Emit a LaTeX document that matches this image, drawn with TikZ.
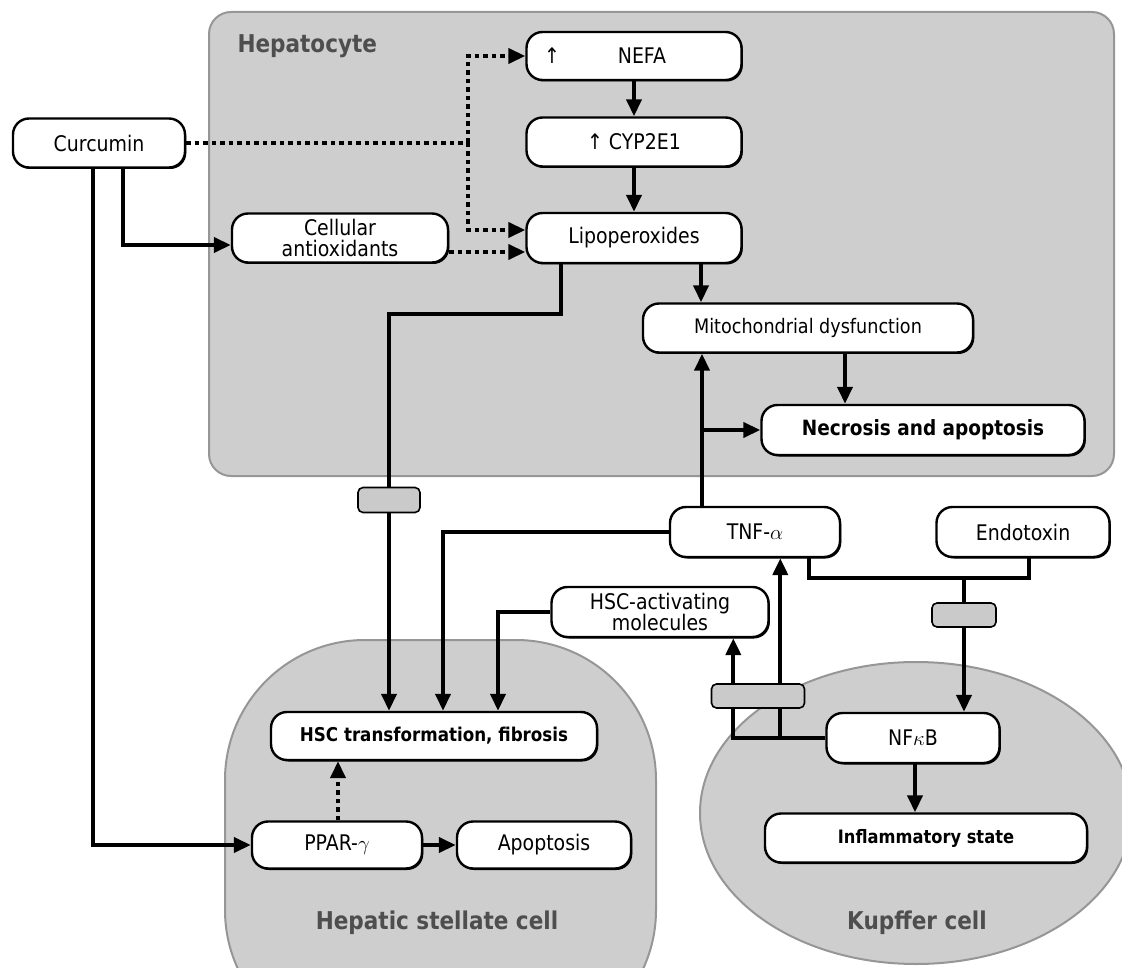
\documentclass[tikz,border=0pt]{standalone}
\usepackage{fontspec}
\setmainfont{DejaVu Sans}[FakeStretch=0.88]
\usetikzlibrary{calc,positioning,arrows.meta,shadows}
\definecolor{cellfill}{RGB}{206,206,206}
\definecolor{cellline}{RGB}{150,150,150}
\definecolor{blockfill}{RGB}{202,202,202}
\definecolor{celltext}{RGB}{78,78,78}
\tikzset{
  cellwall/.style={fill=cellfill, draw=cellline, line width=2pt},
  celllabel/.style={font=\bfseries\fontsize{24.5}{26}\selectfont, text=celltext},
  cellbox/.style={draw, fill=white, line width=2.4pt, rounded corners=16pt,
                  minimum height=49pt, inner sep=2pt, align=center,
                  font=\fontsize{21.5}{20.5}\selectfont,
                  drop shadow={shadow xshift=1.3pt, shadow yshift=-1.5pt,
                               fill=black, opacity=1}},
  cellbold/.style={cellbox, font=\bfseries\fontsize{19}{20}\selectfont},
  blocker/.style={draw, fill=blockfill, line width=1.6pt, rounded corners=5pt,
                  minimum height=24pt, inner sep=0pt},
  wire/.style={line width=4pt},
  link/.style={wire, -{Triangle[length=17pt, width=15pt]}},
  dotwire/.style={wire, dash pattern=on 4.5pt off 4pt},
  dotlink/.style={link, dash pattern=on 4.5pt off 4pt},
}
\begin{document}
\begin{tikzpicture}[x=1pt, y=-1pt]
\useasboundingbox (0,0) rectangle (1122,968);
\clip (0,0) rectangle (1122,968);
% cell bodies
\draw[cellwall, rounded corners=22pt] (209,12) rectangle (1114,476);
\draw[cellwall, rounded corners=140pt] (225,640) rectangle (656,1050);
\draw[cellwall] (916,813) ellipse [x radius=216, y radius=151];
\node[celllabel, anchor=base west] (hepl) at (234,53) {Hepatocyte};
\node[celllabel] (hscl) at (437,923) {Hepatic stellate cell};
\node[celllabel] (kupl) at (917,923) {Kupffer cell};
% boxes
\node[cellbox, minimum width=172pt] (curc) at (99,143) {Curcumin};
\node[cellbox, minimum width=215pt, minimum height=48pt] (nefa) at (634,56)
  {\makebox[180pt][l]{↑\hspace{58pt}NEFA}};
\node[cellbox, minimum width=215pt] (cyp) at (634,142) {↑ CYP2E1};
\node[cellbox, minimum width=215pt, minimum height=50pt] (lipo) at (634,238) {Lipoperoxides};
\node[cellbox, minimum width=216pt] (anti) at (340,238) {Cellular\\antioxidants};
\node[cellbox, minimum width=330pt, font=\fontsize{20}{20}\selectfont] (mito) at (808,328)
  {Mitochondrial dysfunction};
\node[cellbold, minimum width=323pt, minimum height=50pt,
      font=\bfseries\fontsize{21}{22}\selectfont] (necr) at (923,430) {Necrosis and apoptosis};
\node[cellbox, minimum width=170pt, minimum height=50pt] (tnf) at (755,532) {TNF-$\alpha$};
\node[cellbox, minimum width=173pt, minimum height=50pt] (endo) at (1023,532) {Endotoxin};
\node[cellbox, minimum width=217pt, minimum height=50pt] (hscm) at (660,612)
  {HSC-activating\\molecules};
\node[cellbold, minimum width=326pt, minimum height=48pt] (hsc) at (434,736)
  {HSC transformation, fibrosis};
\node[cellbox, minimum width=170pt, minimum height=47pt] (ppar) at (337,845) {PPAR-$\gamma$};
\node[cellbox, minimum width=174pt, minimum height=47pt] (apop) at (544,845) {Apoptosis};
\node[cellbox, minimum width=173pt, minimum height=50pt] (nfkb) at (913,738) {NF$\kappa$B};
\node[cellbold, minimum width=322pt, font=\bfseries\fontsize{18.5}{20}\selectfont] (infl)
  at (926,838) {Inflammatory state};
% blockers
\node[blocker, minimum width=62pt, minimum height=25pt] (g1) at (389,500) {};
\node[blocker, minimum width=64pt] (g2) at (964,615) {};
\node[blocker, minimum width=93pt] (g3) at (758,696) {};
% Curcumin, dotted branch
\coordinate (jd) at (468,143);
\draw[dotwire] (curc.east) -- (jd);
\draw[dotlink] (jd) |- (nefa.west);
\draw[dotlink] (jd) |- ($(lipo.west)+(0,-8)$);
\draw[dotlink] ($(anti.east)+(0,14)$) -- ($(lipo.west)+(0,14)$);
% Curcumin, solid branches
\draw[link] ($(curc.south)+(24,0)$) |- ($(anti.west)+(0,7)$);
\draw[link] ($(curc.south)+(-6,0)$) |- (ppar.west);
% hepatocyte chain
\draw[link] (nefa) -- (cyp);
\draw[link] (cyp) -- (lipo);
\coordinate (lm) at ($(lipo.south)+(67,0)$);
\draw[link] (lm) -- (lm |- mito.north);
\coordinate (mn) at ($(mito.south)+(37,0)$);
\draw[link] (mn) -- (mn |- necr.north);
% TNF
\coordinate (tm) at ($(tnf.north)+(-53,0)$);
\draw[link] (tm) -- (tm |- mito.south);
\draw[link] (tm |- necr.west) -- (necr.west);
\draw[link] (tnf.west) -| ($(hsc.north)+(9,0)$);
% lipoperoxides and activating molecules to stellate cell
\draw[wire] ($(lipo.south)+(-73,0)$) -- ++(0,50) -| (g1.north);
\draw[link] (g1.south) -- (g1.south |- hsc.north);
\draw[link] (hscm.west) -| ($(hsc.north)+(64,0)$);
% endotoxin and NFkB
\coordinate (jk) at (964,578);
\draw[wire] ($(tnf.south)+(54,0)$) |- (jk) -| ($(endo.south)+(6,0)$);
\draw[wire] (jk) -- (g2.north);
\draw[link] (g2.south) -- (g2.south |- nfkb.north);
\coordinate (ni) at ($(nfkb.south)+(2,0)$);
\draw[link] (ni) -- (ni |- infl.north);
\coordinate (nl) at ($(nfkb.west)+(-92,0)$);
\coordinate (nr) at ($(nfkb.west)+(-45,0)$);
\draw[wire] (nfkb.west) -- (nl) -- (nl |- g3.south);
\draw[wire] (nr) -- (nr |- g3.south);
\draw[link] (nl |- g3.north) -- (nl |- hscm.south);
\draw[link] (nr |- g3.north) -- (nr |- tnf.south);
% stellate cell
\draw[link] (ppar) -- (apop);
\coordinate (pu) at ($(ppar.north)+(1,0)$);
\draw[dotlink] (pu) -- (pu |- hsc.south);
\end{tikzpicture}
\end{document}
